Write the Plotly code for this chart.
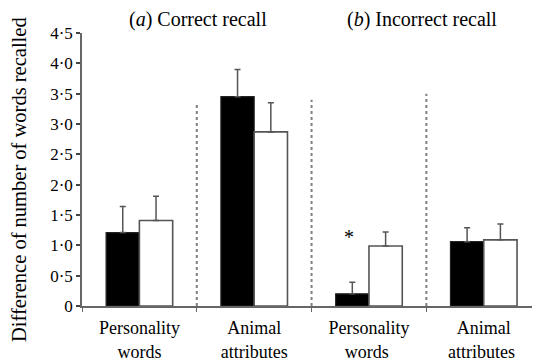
import plotly.graph_objects as go

categories = ["Personality<br>words", "Animal<br>attributes", "Personality<br>words ", "Animal<br>attributes "]
black_vals = [1.21, 3.45, 0.20, 1.06]
black_err = [0.43, 0.45, 0.19, 0.23]
white_vals = [1.41, 2.87, 0.99, 1.09]
white_err = [0.40, 0.48, 0.23, 0.26]
ytick_vals = [0, 0.5, 1.0, 1.5, 2.0, 2.5, 3.0, 3.5, 4.0, 4.5]
ytick_text = ["0", "0·5", "1·0", "1·5", "2·0", "2·5", "3·0", "3·5", "4·0", "4·5"]
panel_titles = ["(<i>a</i>) Correct recall", "(<i>b</i>) Incorrect recall"]
y_title = "Difference of number of words recalled"
separator_x = [0.5, 1.5, 2.5]
separator_top = [3.36, 3.40, 3.50]

FONT = "Liberation Serif"
edge = "#555555"

fig = go.Figure()
fig.add_trace(go.Bar(
    x=categories, y=black_vals, marker=dict(color="black", line=dict(color="#222222", width=1.2)),
    error_y=dict(type="data", array=black_err, arrayminus=[0]*4, symmetric=False,
                 color=edge, thickness=1.5, width=3),
    showlegend=False))
fig.add_trace(go.Bar(
    x=categories, y=white_vals, marker=dict(color="white", line=dict(color=edge, width=1.6)),
    error_y=dict(type="data", array=white_err, arrayminus=[0]*4, symmetric=False,
                 color=edge, thickness=1.5, width=3),
    showlegend=False))

for xs, yt in zip(separator_x, separator_top):
    fig.add_shape(type="line", x0=xs, x1=xs, y0=0, y1=yt, xref="x", yref="y",
                  line=dict(color="#808080", width=2, dash="dot"))

fig.update_layout(
    width=532, height=355,
    margin=dict(l=74, r=0, t=25, b=57, autoexpand=False),
    paper_bgcolor="white", plot_bgcolor="white",
    barmode="group", bargap=0.42, bargroupgap=0,
    font=dict(family=FONT, size=17, color="black"),
    xaxis=dict(range=[-0.5, 3.49], showline=True, linecolor="#666666", linewidth=1.5,
               ticks="outside", tickson="boundaries", ticklen=4, tickcolor="#666666",
               showgrid=False, automargin=False, ticklabelstandoff=5,
               tickfont=dict(family=FONT, size=18, color="black")),
    yaxis=dict(range=[0, 4.5], showline=True, linecolor="#666666", linewidth=1.5,
               ticks="outside", ticklen=4, tickcolor="#444444", tickwidth=2,
               tickvals=ytick_vals, ticktext=ytick_text, showgrid=False, zeroline=False,
               automargin=False,
               tickfont=dict(family=FONT, size=17, color="black")),
)
fig.add_annotation(x=(19 - 82) / 458, y=(306 - 180) / 273, xref="paper", yref="paper",
                   text=y_title, textangle=-90, showarrow=False,
                   xanchor="center", yanchor="middle",
                   font=dict(family=FONT, size=20.5, color="black"))
fig.add_annotation(x=categories[2], y=1.13, xref="x", yref="y", text="*", showarrow=False,
                   xshift=-20, font=dict(family=FONT, size=20, color="black"))
fig.add_annotation(x=(198 - 82) / 458, y=1, yref="paper", xref="paper", yshift=14,
                   xanchor="center", yanchor="middle",
                   text=panel_titles[0], showarrow=False,
                   font=dict(family=FONT, size=20, color="black"))
fig.add_annotation(x=(422 - 82) / 458, y=1, yref="paper", xref="paper", yshift=14,
                   xanchor="center", yanchor="middle",
                   text=panel_titles[1], showarrow=False,
                   font=dict(family=FONT, size=20, color="black"))

fig.write_html("out.html")
